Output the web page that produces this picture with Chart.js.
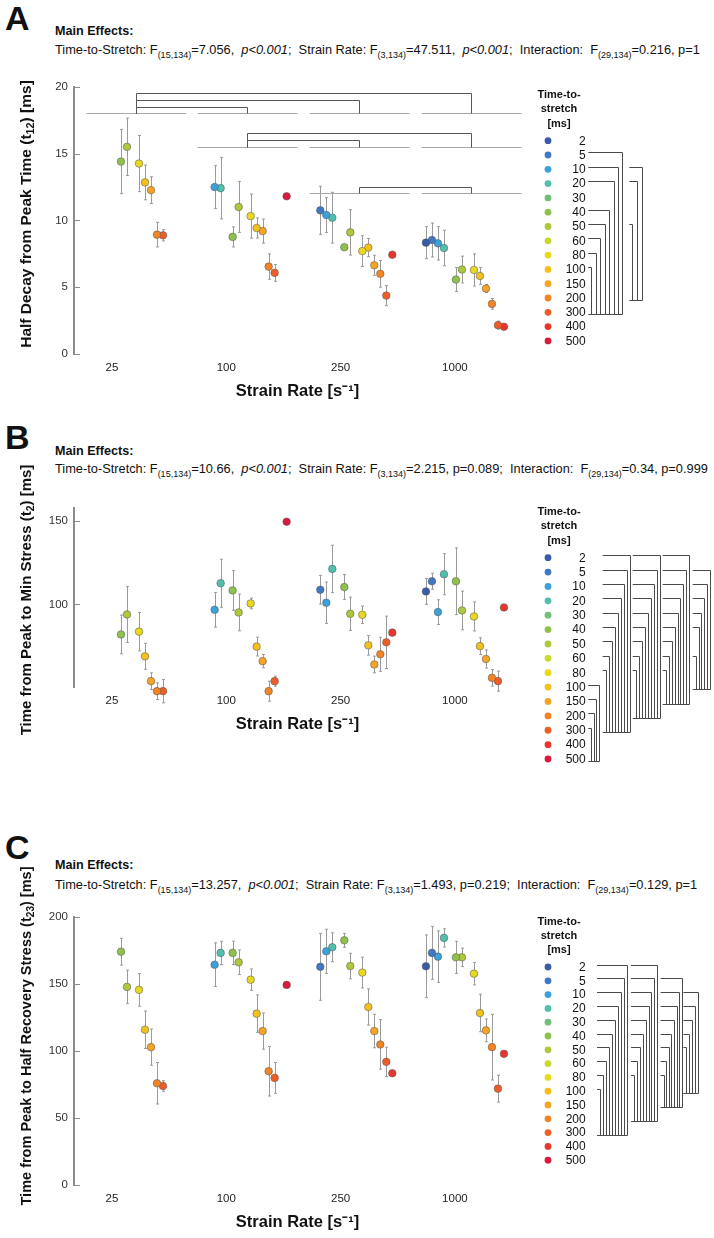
<!DOCTYPE html>
<html>
<head>
<meta charset="utf-8">
<title>Time-to-stretch and strain rate effects</title>
<script src="https://cdn.jsdelivr.net/npm/chart.js@4.4.1/dist/chart.umd.min.js"></script>
<style>
  body { margin: 0; background: #fff; }
  #page { position: relative; width: 714px; height: 1238px; overflow: hidden;
          font-family: 'Liberation Sans', Arial, sans-serif; color: #111; }
  .letter { position: absolute; left: 5px; font-size: 34px; font-weight: bold; line-height: 34px; }
  .me { position: absolute; left: 55px; font-size: 12.6px; font-weight: bold; line-height: 14px; }
  .stats { position: absolute; left: 55px; font-size: 12.8px; line-height: 14px; white-space: nowrap; }
  .stats sub { font-size: 9px; vertical-align: -4px; line-height: 0; }
  canvas { position: absolute; left: 0; }
</style>
</head>
<body>
<div id="page">
  <div class="letter" style="top:1px">A</div>
  <div class="me" style="top:24px">Main Effects:</div>
  <div class="stats" style="top:43px">Time-to-Stretch: F<sub>(15,134)</sub>=7.056,&nbsp; <i>p&lt;0.001</i>;&nbsp; Strain Rate: F<sub>(3,134)</sub>=47.511,&nbsp; <i>p&lt;0.001</i>;&nbsp; Interaction:&nbsp; F<sub>(29,134)</sub>=0.216, p=1</div>

  <div class="letter" style="top:420px">B</div>
  <div class="me" style="top:444px">Main Effects:</div>
  <div class="stats" style="top:462px">Time-to-Stretch: F<sub>(15,134)</sub>=10.66,&nbsp; <i>p&lt;0.001</i>;&nbsp; Strain Rate: F<sub>(3,134)</sub>=2.215, p=0.089;&nbsp; Interaction:&nbsp; F<sub>(29,134)</sub>=0.34, p=0.999</div>

  <div class="letter" style="top:830px">C</div>
  <div class="me" style="top:858px">Main Effects:</div>
  <div class="stats" style="top:878px">Time-to-Stretch: F<sub>(15,134)</sub>=13.257,&nbsp; <i>p&lt;0.001</i>;&nbsp; Strain Rate: F<sub>(3,134)</sub>=1.493, p=0.219;&nbsp; Interaction:&nbsp; F<sub>(29,134)</sub>=0.129, p=1</div>

  <canvas id="chartA" width="714" height="350" style="top:60px"></canvas>
  <canvas id="chartB" width="714" height="330" style="top:440px"></canvas>
  <canvas id="chartC" width="714" height="395" style="top:840px"></canvas>
</div>
<script>
const strainRates = ['25', '100', '250', '1000'];
const timeToStretch = [2, 5, 10, 20, 30, 40, 50, 60, 80, 100, 150, 200, 300, 400, 500];
const ttsColors = ['#3a5ba8', '#3f78c4', '#3aa2d8', '#4fbfae', '#72bf79', '#8fc24b', '#abc93a',
                   '#c9d82e', '#e8d91e', '#f4c11c', '#f6a423', '#f28426', '#ee5d28', '#e8352d', '#d81b3c'];

// A: half decay from peak time t12 [ms]; mean and SD for each time-to-stretch (null = not tested)
//                  2     5      10     20     30    40    50    60    80     100    150    200   300   400   500
const decay25     = [null, null,  null,  null,  null, 14.4, 15.5, null, 14.25, 12.84, 12.26, 8.93, 8.88, null, null];
const decaySd25   = [null, null,  null,  null,  null, 2.4,  2.15, null, 2.1,   1.3,   1.0,   0.92, 0.42, null, null];
const decay100    = [null, null,  12.49, 12.41, null, 8.76, 11.0, null, 10.32, 9.43,  9.2,   6.54, 6.07, null, 11.8];
const decaySd100  = [null, null,  1.6,   2.3,   null, 0.75, 1.9,  null, 1.65,  0.75,  0.9,   0.95, 0.63, null, 0];
const decay250    = [null, 10.75, 10.4,  10.2,  null, 7.99, 9.1,  null, 7.7,   7.96,  6.64,  6.0,  4.37, 7.43, null];
const decaySd250  = [null, 1.8,   1.3,   1.9,   null, 0,    1.7,  null, 1.15,  0.68,  0.75,  1.0,  0.75, 0,    null];
const decay1000   = [8.33, 8.53,  8.28,  7.93,  null, 5.57, 6.32, null, 6.29,  5.84,  4.9,   3.75, 2.16, 2.04, null];
const decaySd1000 = [1.2,  1.27,  1.25,  1.33,  null, 0.9,  1.0,  null, 1.2,   0.63,  0.3,   0.4,  0.3,  0,    null];

// B: time from peak to min stress t2 [ms]
const minT25      = [null,  null,  null, null,  null, 82,    94,   null, 83.7, 68.9, 54,   48,   48,   null, null];
const minTSd25    = [null,  null,  null, null,  null, 11.6,  16.8, null, 11.5, 7.8,  5,    5,    7,    null, null];
const minT100     = [null,  null,  96.8, 112.7, null, 108.4, 95.2, null, 100.6, 74.7, 66,  48,   54,   null, 149.6];
const minTSd100   = [null,  null,  10.4, 14.4,  null, 11.9,  11,   null, 3.2,  5.6,  4,    6,    3,    null, 0];
const minT250     = [null,  108.8, 101,  121.3, null, 110.4, 94.4, null, 93.8, 75.5, 64,   70.1, 77.3, 83.1, null];
const minTSd250   = [null,  8.6,   12.4, 14.2,  null, 7.5,   10,   null, 5.2,  5.9,  5,    10.2, 15.7, 0,    null];
const minT1000    = [107.8, 113.9, 95.4, 118.1, null, 113.9, 96.4, null, 92.8, 75,   67.3, 56,   54,   98.2, null];
const minTSd1000  = [7.7,   4.8,   7.4,  12.3,  null, 20,    11.6, null, 8.7,  5,    5.4,  5,    6,    0,    null];

// C: time from peak to half recovery stress t23 [ms]
const halfRec25     = [null,  null,  null,  null,  null, 174.3, 148,   null, 145.8, 116,   103,   76,   74,  null, null];
const halfRecSd25   = [null,  null,  null,  null,  null, 10,    12.5,  null, 12.2,  14,    13.5,  15.5, 4,   null, null];
const halfRec100    = [null,  null,  164.6, 173.4, null, 173.4, 166.4, null, 153.4, 128,   115,   85,   80,  null, 149.5];
const halfRecSd100  = [null,  null,  16.3,  8.7,   null, 8.7,   9.2,   null, 8,     14,    13.5,  18.5, 11.5, null, 0];
const halfRec250    = [null,  163,   174.6, 177.6, null, 182.8, 163.6, null, 158.7, 133,   115,   105,  92,  83.5, null];
const halfRecSd250  = [null,  25,    16.5,  10.8,  null, 5.2,   9.5,   null, 11.5,  13.5,  12.5,  18.5, 11,  0,    null];
const halfRec1000   = [163.4, 173.4, 170.6, 184.6, null, 170.1, 170.1, null, 157.9, 128.5, 115.5, 103,  72,  98,   null];
const halfRecSd1000 = [23.4,  19.8,  19.2,  6.8,   null, 12,    6.9,   null, 8.4,   14,    8.5,   24.5, 10,  0,    null];

// strain-rate pairs that differ in A: [group, group, bracket height]; baselines per starting group
const decayRatePairs = [[0, 1, 18.5], [0, 2, 19.0], [0, 3, 19.5], [1, 2, 16.0], [1, 3, 16.5], [2, 3, 12.5]];
const decayRateBaselines = [18.0, 15.5, 12.04];

// time-to-stretch pairs that differ: [shared partner, other levels]
const decayTtsPairs = [[300, [5, 10, 20, 40, 50, 60, 80, 100]], [200, [10, 20, 50]]];
const minTTtsPairs = [[500, [100, 150, 200, 300]], [300, [2, 5, 10, 20, 30, 40, 50, 60, 80]],
                      [200, [2, 5, 10, 20, 30, 40, 50, 60, 80]], [150, [2, 5, 10, 20, 30, 40, 50, 60, 80]],
                      [100, [5, 10, 20, 30, 40, 60]]];
const halfRecTtsPairs = [[300, [2, 5, 10, 20, 30, 40, 50, 60, 80, 100]], [200, [2, 5, 10, 20, 30, 40, 50, 60, 80]],
                         [150, [5, 10, 20, 30, 40, 50, 60, 80]], [100, [10, 20, 30, 40, 50]]];

const FONT = "'Liberation Sans', Arial, sans-serif";
Chart.defaults.font.family = FONT;
Chart.defaults.color = '#222';

// x axis unit = one time-to-stretch slot; groups are spread along it
const GROUP_STEP = 18.61;
const X_MIN = -2.83, X_MAX = 71.67;
const PLOT_RIGHT = 521;
const X_AXIS_H = 50;

function buildDatasets(means, sds) {
  return timeToStretch.map((t, k) => ({
    label: String(t),
    data: means.flatMap((grp, g) => grp[k] == null ? [] : [{ x: g * GROUP_STEP + k, y: grp[k], sd: sds[g][k] }]),
    backgroundColor: ttsColors[k],
    borderColor: 'rgba(90,90,90,0.9)',
    borderWidth: 0.6,
    pointRadius: 3.8,
    pointHoverRadius: 3.8,
    clip: false
  }));
}

const errorBars = {
  id: 'errorBars',
  beforeDatasetsDraw(chart) {
    const { ctx, scales: { x, y } } = chart;
    ctx.save();
    ctx.strokeStyle = '#9b9b9b';
    ctx.lineWidth = 1;
    chart.data.datasets.forEach(ds => ds.data.forEach(p => {
      if (!p.sd) return;
      const px = Math.round(x.getPixelForValue(p.x)) + 0.5;
      const top = y.getPixelForValue(p.y + p.sd), bot = y.getPixelForValue(p.y - p.sd);
      ctx.beginPath();
      ctx.moveTo(px, top); ctx.lineTo(px, bot);
      ctx.moveTo(px - 1.5, top); ctx.lineTo(px + 1.5, top);
      ctx.moveTo(px - 1.5, bot); ctx.lineTo(px + 1.5, bot);
      ctx.stroke();
    }));
    ctx.restore();
  }
};

// short inward ticks on the y axis
const innerTicks = {
  id: 'innerTicks',
  afterDraw(chart) {
    const { ctx, chartArea, scales: { y } } = chart;
    ctx.save();
    ctx.strokeStyle = '#8c8c8c';
    ctx.lineWidth = 1;
    y.ticks.forEach(t => {
      const py = Math.round(y.getPixelForValue(t.value)) + 0.5;
      ctx.beginPath(); ctx.moveTo(chartArea.left, py); ctx.lineTo(chartArea.left + 6, py); ctx.stroke();
    });
    ctx.restore();
  }
};

// rotated y title with a real subscript
const yTitle = {
  id: 'yTitle',
  afterDraw(chart, args, opts) {
    const ctx = chart.ctx;
    const main = 'bold ' + opts.size + 'px ' + FONT, sub = 'bold ' + (opts.size * 0.7) + 'px ' + FONT;
    ctx.save();
    let total = 0;
    opts.parts.forEach(([s, isSub]) => { ctx.font = isSub ? sub : main; total += ctx.measureText(s).width; });
    ctx.translate(opts.x, opts.center - opts.canvasTop);
    ctx.rotate(-Math.PI / 2);
    ctx.fillStyle = '#111';
    ctx.textBaseline = 'middle';
    ctx.textAlign = 'left';
    let pos = -total / 2;
    opts.parts.forEach(([s, isSub]) => {
      ctx.font = isSub ? sub : main;
      ctx.fillText(s, pos, isSub ? 4 : 0);
      pos += ctx.measureText(s).width;
    });
    ctx.restore();
  }
};

const rateBrackets = {
  id: 'rateBrackets',
  afterDatasetsDraw(chart, args, opts) {
    if (!opts.pairs) return;
    const { ctx, scales: { x, y } } = chart;
    const cx = g => Math.round(x.getPixelForValue(g * GROUP_STEP + 7.45)) + 0.5;
    const half = 50;
    ctx.save();
    ctx.lineWidth = 1;
    opts.baselines.forEach((b, r) => {
      const py = Math.round(y.getPixelForValue(b)) + 0.5;
      ctx.strokeStyle = '#a8a8a8';
      for (let g = r; g < strainRates.length; g++) {
        ctx.beginPath(); ctx.moveTo(cx(g) - half, py); ctx.lineTo(cx(g) + half, py); ctx.stroke();
      }
    });
    ctx.strokeStyle = '#555';
    opts.pairs.forEach(([g1, g2, h]) => {
      const base = Math.round(y.getPixelForValue(opts.baselines[g1])) + 0.5;
      const top = Math.round(y.getPixelForValue(h)) + 0.5;
      ctx.beginPath();
      ctx.moveTo(cx(g1), base); ctx.lineTo(cx(g1), top); ctx.lineTo(cx(g2), top); ctx.lineTo(cx(g2), base);
      ctx.stroke();
    });
    ctx.restore();
  }
};

const ttsLegend = {
  id: 'ttsLegend',
  afterDraw(chart, args, opts) {
    const ctx = chart.ctx;
    const row = opts.row;
    const y0 = opts.firstRow - opts.canvasTop;
    const rowY = t => y0 + timeToStretch.indexOf(t) * row;
    ctx.save();
    ctx.fillStyle = '#111';
    ctx.font = 'bold 11px ' + FONT;
    ctx.textAlign = 'center';
    ctx.textBaseline = 'middle';
    ['Time-to-', 'stretch', '[ms]'].forEach((s, i) => ctx.fillText(s, 559, y0 - 45.5 + i * 14.2));
    ctx.font = '12px ' + FONT;
    ctx.textAlign = 'right';
    chart.data.datasets.forEach((ds, k) => {
      const yy = y0 + k * row;
      ctx.beginPath(); ctx.arc(548, yy, 3.4, 0, 2 * Math.PI);
      ctx.fillStyle = ds.backgroundColor; ctx.fill();
      ctx.fillStyle = '#111';
      ctx.fillText(ds.label, 585.7, yy + 0.5);
    });
    ctx.strokeStyle = '#4a4a4a';
    ctx.lineWidth = 1;
    opts.pairs.forEach(([target, sources], c) => {
      const left = opts.lefts[c], step = opts.steps[c];
      const n = sources.length;
      const yt = Math.round(rowY(target) + 2) + 0.5;
      sources.forEach((s, j) => {
        const ys = Math.round(rowY(s) - 2.5) + 0.5;
        const vx = Math.round(left + 3 + (n - 1 - j) * step) + 0.5;
        ctx.beginPath(); ctx.moveTo(left, ys); ctx.lineTo(vx, ys); ctx.lineTo(vx, yt); ctx.stroke();
      });
      ctx.beginPath(); ctx.moveTo(left, yt); ctx.lineTo(Math.round(left + 3 + (n - 1) * step) + 0.5, yt); ctx.stroke();
    });
    ctx.restore();
  }
};

function makePanel(id, p) {
  const el = document.getElementById(id);
  const canvasTop = parseFloat(el.style.top);
  const padBottom = el.height - (p.plotBottom - canvasTop) - X_AXIS_H;
  return new Chart(el, {
    type: 'scatter',
    data: { datasets: buildDatasets(p.means, p.sds) },
    plugins: [errorBars, innerTicks, rateBrackets, ttsLegend, yTitle],
    options: {
      responsive: false,
      animation: false,
      events: [],
      layout: { padding: { top: p.plotTop - canvasTop, left: 0, right: 714 - PLOT_RIGHT, bottom: padBottom } },
      plugins: {
        legend: { display: false },
        tooltip: { enabled: false },
        rateBrackets: { pairs: p.ratePairs, baselines: p.rateBaselines },
        ttsLegend: { firstRow: p.legendRow, row: p.legendStep, canvasTop: canvasTop, pairs: p.ttsPairs,
                     lefts: p.lefts, steps: p.steps },
        yTitle: { parts: p.yTitle, x: 27, size: p.titleSize, center: p.titleCenter, canvasTop: canvasTop }
      },
      scales: {
        x: {
          type: 'linear', min: X_MIN, max: X_MAX,
          grid: { display: false, drawTicks: false }, border: { display: false },
          afterBuildTicks: s => { s.ticks = strainRates.map((r, i) => ({ value: 3.5 + i * 19.05 })); },
          ticks: { callback: (v, i) => strainRates[i], autoSkip: false, maxRotation: 0, padding: 7,
                   font: { size: 11.5 }, color: '#222' },
          title: { display: true, text: 'Strain Rate [s\u207B\u00B9]', font: { size: 16.5, weight: 'bold' },
                   color: '#111', padding: { top: 2, bottom: 3 } },
          afterFit: s => { s.height = X_AXIS_H; }
        },
        y: {
          min: p.yMin, max: p.yMax,
          afterBuildTicks: s => { s.ticks = p.yTicks.map(v => ({ value: v })); },
          grid: { display: false, drawTicks: false },
          border: { display: true, color: '#8c8c8c', width: 2 },
          ticks: { padding: 6, font: { size: 11.5 }, color: '#333' },
          title: { display: false },
          afterFit: s => { s.width = 74; }
        }
      }
    }
  });
}

makePanel('chartA', {
  means: [decay25, decay100, decay250, decay1000],
  sds: [decaySd25, decaySd100, decaySd250, decaySd1000],
  yMin: 0, yMax: 20, yTicks: [0, 5, 10, 15, 20], plotTop: 86.7, plotBottom: 354,
  yTitle: [['Half Decay from Peak Time (t', false], ['12', true], [') [ms]', false]], titleSize: 15.5, titleCenter: 214,
  ratePairs: decayRatePairs, rateBaselines: decayRateBaselines,
  legendRow: 140.7, legendStep: 14.3, ttsPairs: decayTtsPairs, lefts: [588.3, 629.3], steps: [4.45, 4.65]
});

makePanel('chartB', {
  means: [minT25, minT100, minT250, minT1000],
  sds: [minTSd25, minTSd100, minTSd250, minTSd1000],
  yMin: 50.5, yMax: 158, yTicks: [100, 150], plotTop: 507.7, plotBottom: 687,
  yTitle: [['Time from Peak to Min Stress (t', false], ['2', true], [') [ms]', false]], titleSize: 15, titleCenter: 600,
  legendRow: 557.7, legendStep: 14.38, ttsPairs: minTTtsPairs,
  lefts: [588.3, 602.7, 632.7, 662.7, 692.7], steps: [2.5, 3, 3, 2.95, 2.8]
});

makePanel('chartC', {
  means: [halfRec25, halfRec100, halfRec250, halfRec1000],
  sds: [halfRecSd25, halfRecSd100, halfRecSd250, halfRecSd1000],
  yMin: 0, yMax: 200, yTicks: [0, 50, 100, 150, 200], plotTop: 917.3, plotBottom: 1185,
  yTitle: [['Time from Peak to Half Recovery Stress (t', false], ['23', true], [') [ms]', false]], titleSize: 14.5, titleCenter: 1036,
  legendRow: 967, legendStep: 13.8, ttsPairs: halfRecTtsPairs,
  lefts: [597, 631, 660.6, 683.4], steps: [3, 2.9, 2.6, 3]
});
</script>
</body>
</html>
